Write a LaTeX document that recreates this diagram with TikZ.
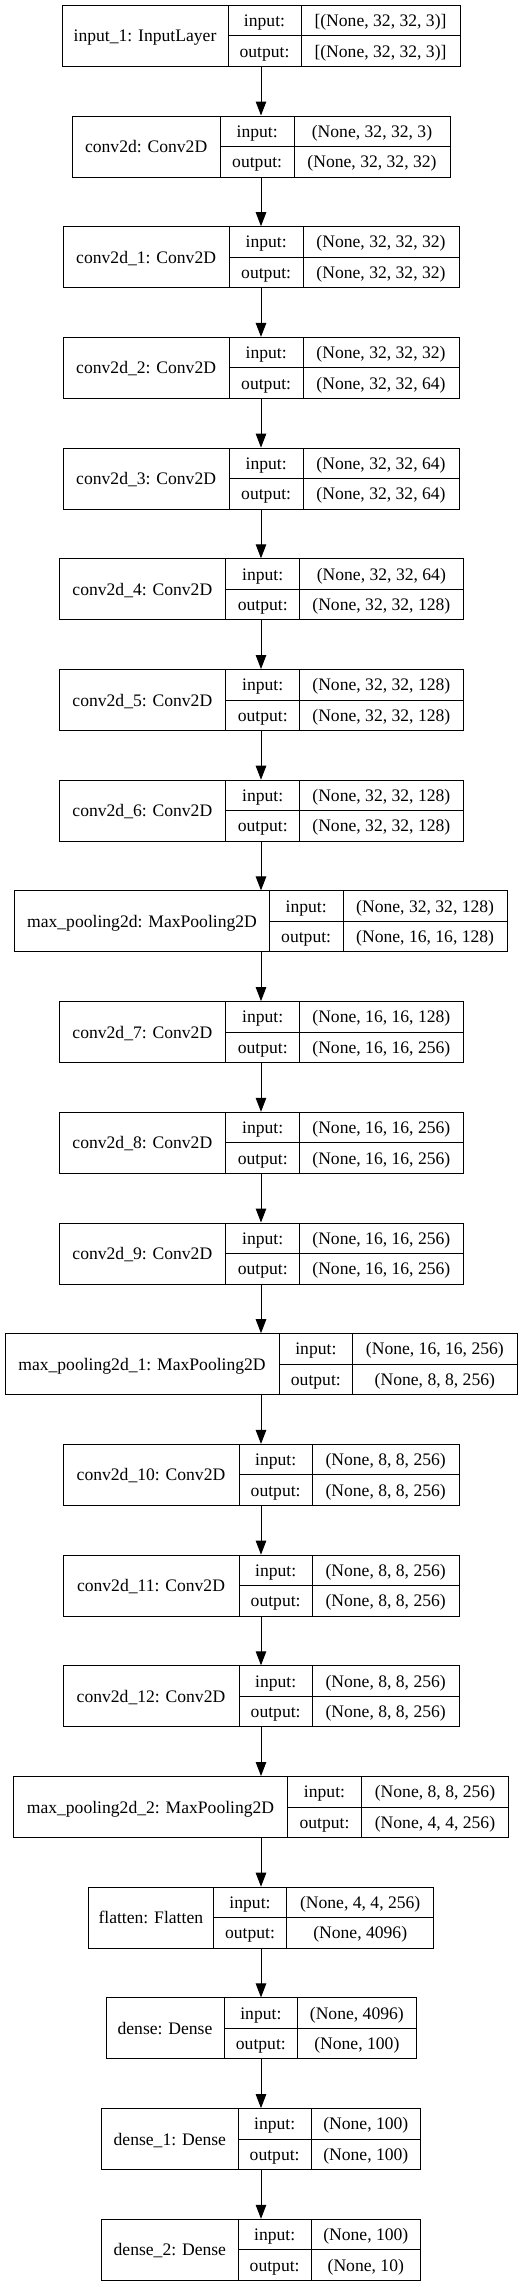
\documentclass[tikz,border=0pt]{standalone}
\usepackage{fontspec}
\setmainfont{Liberation Serif}
\usetikzlibrary{arrows.meta}

\begin{document}
\begin{tikzpicture}[x=1pt,y=-1pt,
	font=\fontsize{17.6}{20}\selectfont,
	layer/.style={draw,line width=1pt,inner sep=0pt,minimum height=61pt},
	txt/.style={inner sep=0pt,text height=14pt,text depth=2pt},
	flow/.style={-{Triangle[length=14pt,width=10.5pt]},line width=1pt}]
	\useasboundingbox (0,0) rectangle (531,2287);
	% Layers: number/left/first divider/second divider/name/input shape/output shape
	\foreach \i/\lft/\da/\db/\lname/\ishape/\oshape in {
		1/62/228/301/input\_1: InputLayer/{[(None, 32, 32, 3)]}/{[(None, 32, 32, 3)]},
		2/72/220.3/294/conv2d: Conv2D/{(None, 32, 32, 3)}/{(None, 32, 32, 32)},
		3/63/229.3/303/conv2d\_1: Conv2D/{(None, 32, 32, 32)}/{(None, 32, 32, 32)},
		4/63/229.3/303/conv2d\_2: Conv2D/{(None, 32, 32, 32)}/{(None, 32, 32, 64)},
		5/63/229.3/303/conv2d\_3: Conv2D/{(None, 32, 32, 64)}/{(None, 32, 32, 64)},
		6/59/225.7/299.7/conv2d\_4: Conv2D/{(None, 32, 32, 64)}/{(None, 32, 32, 128)},
		7/59/225.7/299.7/conv2d\_5: Conv2D/{(None, 32, 32, 128)}/{(None, 32, 32, 128)},
		8/59/225.7/299.7/conv2d\_6: Conv2D/{(None, 32, 32, 128)}/{(None, 32, 32, 128)},
		9/14.7/269.3/343/max\_pooling2d: MaxPooling2D/{(None, 32, 32, 128)}/{(None, 16, 16, 128)},
		10/59/225.7/299.7/conv2d\_7: Conv2D/{(None, 16, 16, 128)}/{(None, 16, 16, 256)},
		11/59/225.7/299.7/conv2d\_8: Conv2D/{(None, 16, 16, 256)}/{(None, 16, 16, 256)},
		12/59/225.7/299.7/conv2d\_9: Conv2D/{(None, 16, 16, 256)}/{(None, 16, 16, 256)},
		13/5/279/352.7/max\_pooling2d\_1: MaxPooling2D/{(None, 16, 16, 256)}/{(None, 8, 8, 256)},
		14/63/239/312.3/conv2d\_10: Conv2D/{(None, 8, 8, 256)}/{(None, 8, 8, 256)},
		15/63/239/312.3/conv2d\_11: Conv2D/{(None, 8, 8, 256)}/{(None, 8, 8, 256)},
		16/63/239/312.3/conv2d\_12: Conv2D/{(None, 8, 8, 256)}/{(None, 8, 8, 256)},
		17/13.3/287.7/361.3/max\_pooling2d\_2: MaxPooling2D/{(None, 8, 8, 256)}/{(None, 4, 4, 256)},
		18/88.3/213.3/286.7/flatten: Flatten/{(None, 4, 4, 256)}/{(None, 4096)},
		19/106/224/297.7/dense: Dense/{(None, 4096)}/{(None, 100)},
		20/101.7/238/311.3/dense\_1: Dense/{(None, 100)}/{(None, 100)},
		21/101.7/238/311.3/dense\_2: Dense/{(None, 100)}/{(None, 10)}}{
		\pgfmathsetmacro{\ytop}{5.3+110.7*(\i-1)}
		\pgfmathsetmacro{\rgt}{522-\lft}
		% Outer box and dividers
		\node[layer,minimum width={(\rgt-\lft)*1pt}] (b\i) at (261,\ytop+30.5) {};
		\draw[line width=1pt] (\da,\ytop) -- (\da,\ytop+61) (\db,\ytop) -- (\db,\ytop+61)
			(\da,\ytop+30.5) -- (\rgt,\ytop+30.5);
		% Texts
		\node[txt] (n\i) at ({(\lft+\da)/2},\ytop+30.5) {\lname};
		\node[txt] (ik\i) at ({(\da+\db)/2},\ytop+15.25) {input:};
		\node[txt] (ok\i) at ({(\da+\db)/2},\ytop+45.75) {output:};
		\node[txt] (iv\i) at ({(\db+\rgt)/2},\ytop+15.25) {\ishape};
		\node[txt] (ov\i) at ({(\db+\rgt)/2},\ytop+45.75) {\oshape};
	}
	% Arrows
	\foreach \i [evaluate=\i as \j using int(\i+1)] in {1,...,20}
		\draw[flow] (b\i.south) -- (b\j.north);
\end{tikzpicture}
\end{document}
